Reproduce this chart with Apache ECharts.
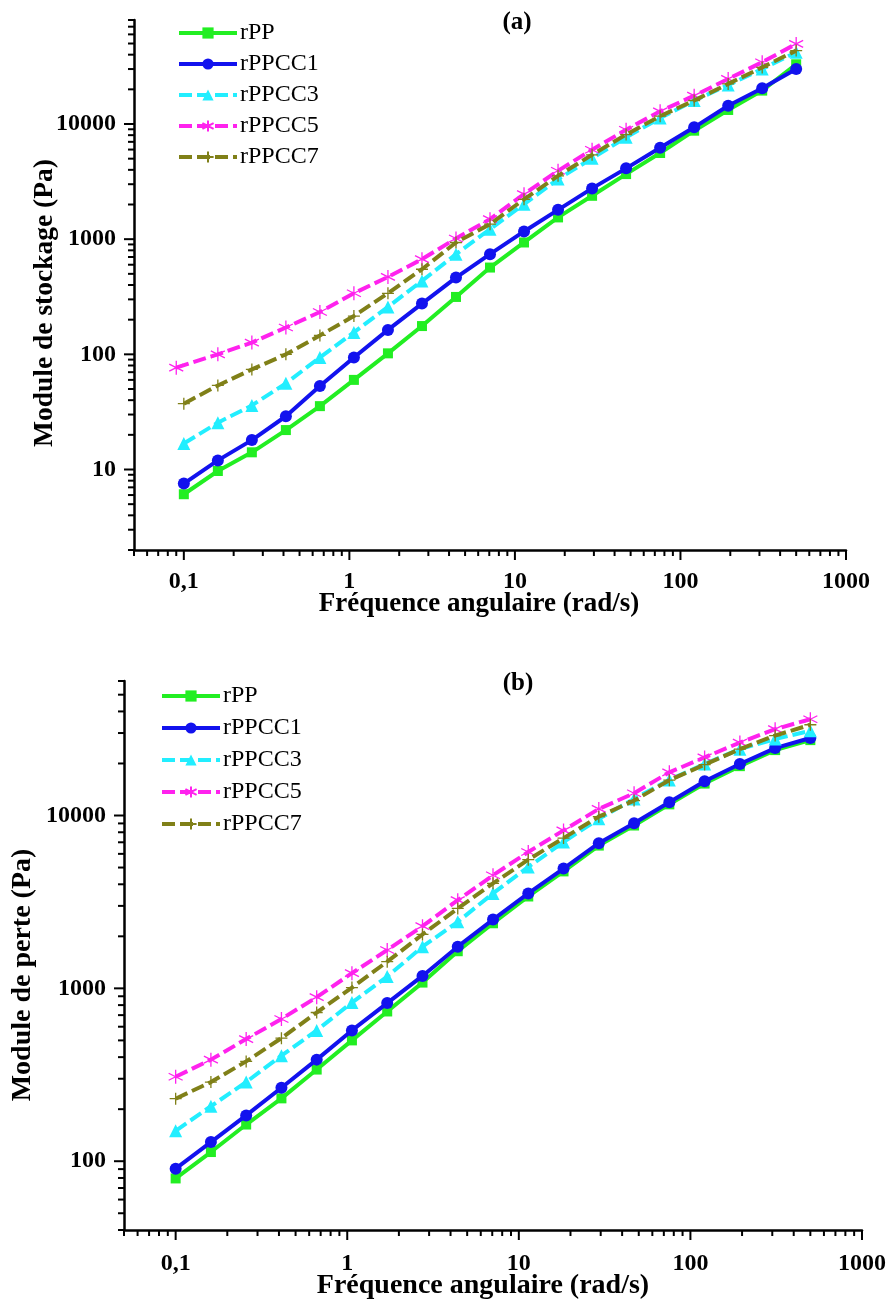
<!DOCTYPE html>
<html>
<head>
<meta charset="utf-8">
<script src="https://cdn.jsdelivr.net/npm/echarts@6/dist/echarts.min.js"></script>
<style>
html,body{margin:0;padding:0;background:#fff;}
#chart{width:889px;height:1301px;}
</style>
</head>
<body>
<div id="chart"></div>
<script>
// ---------- data ----------
const seriesNames = ['rPP', 'rPPCC1', 'rPPCC3', 'rPPCC5', 'rPPCC7'];
const freq = [0.1, 0.1605, 0.2576, 0.4135, 0.6637, 1.065, 1.71, 2.745, 4.406, 7.072, 11.35, 18.22, 29.25, 46.95, 75.36, 121, 194.2, 311.7, 500];
const freqStorageRPPCC5 = [0.09, 0.1605, 0.2576, 0.4135, 0.6637, 1.065, 1.71, 2.745, 4.406, 7.072, 11.35, 18.22, 29.25, 46.95, 75.36, 121, 194.2, 311.7, 500];

// (a) Module de stockage (Pa)
const storageRPP    = [6.1, 9.7, 14.1, 22, 35.5, 60, 102, 176, 315, 567, 936, 1545, 2380, 3674, 5600, 8750, 13240, 19500, 33000];
const storageRPPCC1 = [7.55, 12, 18, 29, 53, 94, 163, 276, 464, 741, 1167, 1798, 2760, 4120, 6220, 9360, 14420, 20420, 30000];
const storageRPPCC3 = [16.8, 25.5, 36, 56, 94, 155, 258, 434, 741, 1222, 2014, 3323, 5035, 7656, 11270, 15970, 21810, 30060, 42000];
const storageRPPCC5 = [76.6, 100, 126.5, 171, 233, 339, 470, 670, 1014, 1493, 2461, 3926, 5980, 8918, 12890, 17620, 24620, 34400, 49600];
const storageRPPCC7 = [37.3, 53.7, 74, 100, 146, 215, 339, 548, 936, 1350, 2220, 3550, 5400, 8100, 11700, 16000, 22300, 31000, 43400];

// (b) Module de perte (Pa)
const lossRPP    = [79.5, 113, 163, 231, 339, 500, 735, 1080, 1640, 2380, 3400, 4750, 6700, 8750, 11600, 15300, 19300, 23900, 27300];
const lossRPPCC1 = [90.5, 129, 184, 266, 387, 571, 822, 1180, 1742, 2500, 3540, 4930, 6920, 9030, 11930, 15780, 19860, 24540, 28070];
const lossRPPCC3 = [150, 208, 287, 408, 571, 828, 1170, 1742, 2427, 3540, 5040, 7020, 9570, 12480, 16070, 19860, 24200, 27690, 30910];
const lossRPPCC5 = [308, 387, 509, 665, 889, 1224, 1667, 2290, 3236, 4510, 6150, 8200, 10920, 13450, 17780, 21680, 26410, 31600, 36060];
const lossRPPCC7 = [230, 287, 378, 515, 725, 1011, 1427, 2050, 2900, 4050, 5550, 7400, 9850, 12200, 16000, 19700, 24200, 29000, 33500];

// axis ranges
const xRange = [0.05, 1000];
const yRangeA = [2, 80000];
const yRangeB = [40, 60000];

// texts
const xTitle = 'Fréquence angulaire (rad/s)';
const yTitleA = 'Module de stockage (Pa)';
const yTitleB = 'Module de perte (Pa)';
const panelA = '(a)';
const panelB = '(b)';

// ---------- styles ----------
const SERIF = '"Liberation Serif", "Times New Roman", serif';
const colors = ['#22ee22', '#1212ee', '#22eeff', '#ff22ee', '#808018'];
const asterisk = 'path://M10,0L10,20M1.34,5L18.66,15M1.34,15L18.66,5';
const plus = 'path://M10,0L10,20M0,10L20,10';
const symbols = ['rect', 'circle', 'triangle', asterisk, plus];
const symbolSizes = [10, 12, 13, 14, 12];
const lineTypes = ['solid', 'solid', [13, 5], [13, 5], [13, 5]];

function zip(xs, ys) { return ys.map((y, i) => [xs[i], y]); }

function lineSeries(idx, name, xs, ys, axisIdx) {
  const stroked = idx >= 3;
  return {
    type: 'line', name: name,
    xAxisIndex: axisIdx, yAxisIndex: axisIdx,
    data: zip(xs, ys),
    symbol: symbols[idx], symbolSize: symbolSizes[idx],
    lineStyle: { color: colors[idx], width: 4, type: lineTypes[idx] },
    itemStyle: stroked
      ? { color: colors[idx], borderColor: colors[idx], borderWidth: 1.3 }
      : { color: colors[idx], borderWidth: 0 },
    emphasis: { disabled: true },
    z: 3 + idx,
    silent: true,
    animation: false
  };
}

// minor/major tick values for log axes within a range
function logTicks(range) {
  const out = [];
  const lo = Math.floor(Math.log10(range[0]));
  const hi = Math.ceil(Math.log10(range[1]));
  for (let e = lo; e <= hi; e++) {
    for (let m = 1; m <= 9; m++) {
      const v = +(m * Math.pow(10, e)).toPrecision(6);
      if (v >= range[0] * 0.9999 && v <= range[1] * 1.0001) out.push([v, m === 1 ? 1 : 0]);
    }
  }
  return out;
}

function tickSeries(axisIdx, xr, yr) {
  const data = [];
  logTicks(xr).forEach(t => data.push([t[0], yr[0], 0, t[1] ? 10 : 6]));
  logTicks(yr).forEach(t => data.push([xr[0], t[0], 1, t[1] ? 10 : 6]));
  return {
    type: 'custom', xAxisIndex: axisIdx, yAxisIndex: axisIdx,
    silent: true, clip: false, animation: false, z: 10,
    data: data,
    renderItem: function (params, api) {
      const p = api.coord([api.value(0), api.value(1)]);
      const dir = api.value(2), len = api.value(3);
      const shape = dir === 0
        ? { x1: p[0], y1: p[1], x2: p[0], y2: p[1] + len }
        : { x1: p[0], y1: p[1], x2: p[0] - len, y2: p[1] };
      return { type: 'line', shape: shape, style: { stroke: '#000', lineWidth: 2 } };
    }
  };
}

function fmt(v) {
  return String(+(+v).toPrecision(6)).replace('.', ',');
}

function xAxisCfg(gridIdx, margin) {
  return {
    type: 'log', logBase: 10, gridIndex: gridIdx,
    min: xRange[0], max: xRange[1],
    axisLine: { onZero: false, lineStyle: { color: '#000', width: 2.5 } },
    axisTick: { show: false },
    splitLine: { show: false },
    axisLabel: {
      fontFamily: SERIF, fontWeight: 'bold', fontSize: 24, color: '#000', margin: margin,
      showMinLabel: false,
      formatter: fmt
    }
  };
}

function yAxisCfg(gridIdx, range) {
  return {
    type: 'log', logBase: 10, gridIndex: gridIdx,
    min: range[0], max: range[1],
    axisLine: { onZero: false, lineStyle: { color: '#000', width: 2.5 } },
    axisTick: { show: false },
    splitLine: { show: false },
    axisLabel: {
      fontFamily: SERIF, fontWeight: 'bold', fontSize: 24, color: '#000', margin: 18,
      showMinLabel: false, showMaxLabel: false,
      formatter: fmt
    }
  };
}

function legendCfg(left, top, gap) {
  return {
    data: seriesNames, orient: 'vertical', left: left, top: top,
    itemWidth: 58, itemHeight: 14, itemGap: gap,
    lineStyle: { width: 4 },
    textStyle: { fontFamily: SERIF, fontSize: 24, color: '#000', lineHeight: 24, padding: [0, 0, 0, -2] },
    selectedMode: false, padding: 0
  };
}

function textEl(text, x, y, size, rot) {
  return {
    type: 'text', x: x, y: y, rotation: rot ? Math.PI / 2 : 0,
    style: { text: text, font: 'bold ' + size + 'px ' + SERIF, fill: '#000', textAlign: 'center', textVerticalAlign: 'middle' }
  };
}

const storageYs = [storageRPP, storageRPPCC1, storageRPPCC3, storageRPPCC5, storageRPPCC7];
const storageXs = [freq, freq, freq, freqStorageRPPCC5, freq];
const lossYs = [lossRPP, lossRPPCC1, lossRPPCC3, lossRPPCC5, lossRPPCC7];

const series = [];
seriesNames.forEach((n, i) => series.push(lineSeries(i, n, storageXs[i], storageYs[i], 0)));
seriesNames.forEach((n, i) => series.push(lineSeries(i, n, freq, lossYs[i], 1)));
series.push(tickSeries(0, xRange, yRangeA));
series.push(tickSeries(1, xRange, yRangeB));

const option = {
  backgroundColor: '#fff',
  animation: false,
  grid: [
    { left: 134, top: 20, width: 712, height: 530 },
    { left: 124, top: 681, width: 739, height: 549 }
  ],
  xAxis: [xAxisCfg(0, 20), xAxisCfg(1, 22)],
  yAxis: [yAxisCfg(0, yRangeA), yAxisCfg(1, yRangeB)],
  legend: [legendCfg(177, 21, 7), legendCfg(160, 684, 8)],
  graphic: [
    textEl(panelA, 517, 23, 25, false),
    textEl(panelB, 518, 684, 25, false),
    textEl(xTitle, 479, 604, 27, false),
    textEl(xTitle, 483, 1286, 28, false),
    textEl(yTitleA, 45, 303, 27.5, true),
    textEl(yTitleB, 23, 975, 28, true)
  ],
  series: series
};

const chart = echarts.init(document.getElementById('chart'), null, { renderer: 'canvas' });
chart.setOption(option);
</script>
</body>
</html>
